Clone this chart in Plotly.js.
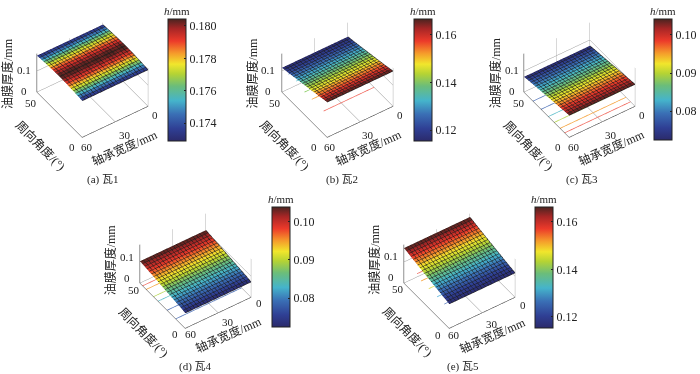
<!DOCTYPE html>
<html><head><meta charset="utf-8">
<script src="https://cdn.plot.ly/plotly-3.0.1.min.js"></script>
<style>html,body{margin:0;padding:0;background:#fff}#c{width:700px;height:374px}</style></head>
<body><div id="c"></div>
<script>
const W=700,H=374;
const widths=[0,3,6,9,12,15,18,21,24,27,30,33,36,39,42,45,48,51,54,57,60];
const angles=[0,2.5,5,7.5,10,12.5,15,17.5,20,22.5,25,27.5,30,32.5,35,37.5,40,42.5,45,47.5,50];
const wobble=[0,.0001,0,-.0001,.0001,0,.0001,-.0001,0,.0001,0,-.0001,.0001,0,-.0001,.0001,0,.0001,-.0001,0,.0001];
const profileA=[.1730,.1740,.1750,.1760,.1768,.1776,.1784,.1790,.1796,.1801,.1804,.1801,.1796,.1790,.1784,.1776,.1768,.1760,.1750,.1740,.1730];
const profileB=[.1665,.164,.161,.158,.155,.153,.150,.147,.145,.142,.140,.137,.135,.132,.130,.127,.125,.122,.120,.118,.1155];
const profileC=[.1040,.1025,.1010,.0995,.0980,.0965,.0950,.0935,.0920,.0905,.0885,.0870,.0855,.0840,.0825,.0810,.0795,.0780,.0765,.0745,.0725];
const profileD=[.0725,.0745,.0765,.0780,.0795,.0810,.0825,.0840,.0855,.0870,.0885,.0905,.0920,.0935,.0950,.0965,.0980,.0995,.1010,.1025,.1038];
const profileE=[.1155,.118,.120,.122,.125,.127,.130,.132,.135,.137,.140,.142,.145,.147,.150,.153,.155,.158,.161,.164,.1662];
const jet=[[0,'#2b2a6b'],[.1,'#2f3f94'],[.22,'#3a6fb5'],[.33,'#45b4cb'],[.45,'#6bbd7a'],[.55,'#b5d334'],[.63,'#f1e62c'],[.72,'#f59a2b'],[.82,'#ec3a2a'],[.92,'#a82626'],[1,'#4a2420']];
const panels=[
 {p:profileA,cx:93,cy:80,bar:[169,19,141],r:[.17289,.18043],tv:[.174,.176,.178,.18],tt:['0.174','0.176','0.178','0.180'],
  f:[83,142],l:[34,93],rt:[152,107],cap:'(a) 瓦1',capx:103,capy:180,lines:[]},
 {p:profileB,cx:339,cy:80,bar:[416,19,141],r:[.1154,.1667],tv:[.12,.14,.16],tt:['0.12','0.14','0.16'],
  f:[327,142],l:[280,93],rt:[398,107],cap:'(b) 瓦2',capx:344,capy:180,lines:[
  {y:21,x:[46,0],c:'#f0655a',z:0},{y:34,x:[46,30],c:'#f5a23a',z:0},{y:42,x:[46,30],c:'#8fcf6a',z:0},{y:50,x:[47,30],c:'#5fc0d0',z:.02},{y:50,x:[54,30],c:'#5577bb',z:.07}]},
 {p:profileC,cx:583,cy:80,bar:[658,19,140],r:[.0724,.1042],tv:[.08,.09,.10],tt:['0.08','0.09','0.10'],
  f:[572,142],l:[525,93],rt:[642,107],cap:'(c) 瓦3',capx:585,capy:180,lines:[
  {y:5,x:[60,0],c:'#f0655a',z:0},{y:10,x:[60,0],c:'#f5a23a',z:0},{y:16.5,x:[60,0],c:'#b9d85a',z:0},{y:23,x:[60,0],c:'#62c0cc',z:0},{y:31,x:[60,0],c:'#5577bb',z:0},{y:40,x:[60,0],c:'#5577bb',z:0}]},
 {p:profileD,cx:197,cy:271,bar:[274,207,327],r:[.0724,.1039],tv:[.08,.09,.10],tt:['0.08','0.09','0.10'],
  f:[187,329],l:[138,280],rt:[256,295],cap:'(d) 瓦4',capx:197,capy:366,lines:[
  {y:47,x:[60,0],c:'#f0655a',z:0},{y:43,x:[60,0],c:'#f5a23a',z:0},{y:35,x:[60,0],c:'#b9d85a',z:0},{y:30,x:[60,0],c:'#62c0cc',z:0},{y:20,x:[60,0],c:'#5577bb',z:0},{y:10.5,x:[60,0],c:'#5577bb',z:0}]},
 {p:profileE,cx:462,cy:271,bar:[538,207,328],r:[.1153,.1663],tv:[.12,.14,.16],tt:['0.12','0.14','0.16'],
  f:[452,330],l:[403,279],rt:[522,297],cap:'(e) 瓦5',capx:466,capy:366,lines:[
  {y:50,x:[48,30],c:'#f0655a',z:.015},{y:45.5,x:[48,30],c:'#f5a23a',z:0},{y:37,x:[48,30],c:'#e2dc50',z:0},{y:28,x:[48,30],c:'#62b8e0',z:0},{y:20,x:[48,30],c:'#5577bb',z:0}]}
];
const serif='"Liberation Serif","Noto Sans CJK SC",serif';
const black='#222';
const traces=[],anns=[],layout={width:W,height:H,margin:{l:0,r:0,t:0,b:0},paper_bgcolor:'#fff',showlegend:false,font:{family:serif,color:black,size:11}};
const SPAN=160;
function txt(x,y,t,rot,size){anns.push({xref:'paper',yref:'paper',x:x/W,y:1-y/H,xanchor:'center',yanchor:'middle',text:t,showarrow:false,textangle:rot||0,font:{family:serif,size:size||11,color:black}});}
panels.forEach((P,i)=>{
  const s='scene'+(i?i+1:'');
  const z=P.p.map(v=>wobble.map(w=>v+w));
  traces.push({type:'surface',scene:s,x:widths,y:angles,z:z,colorscale:jet,cmin:P.r[0],cmax:P.r[1],
    lighting:{ambient:1,diffuse:0,specular:0,roughness:1,fresnel:0},
    contours:{x:{show:true,start:0,end:60,size:3,color:'#1a1a1a',width:1},y:{show:true,start:0,end:50,size:2.5,color:'#1a1a1a',width:1},z:{show:false}},
    colorbar:{x:P.bar[0]/W,xanchor:'left',thicknessmode:'pixels',thickness:18,lenmode:'pixels',len:P.bar[2]-P.bar[1],y:1-P.bar[1]/H,yanchor:'top',xpad:0,ypad:0,outlinecolor:black,outlinewidth:1,
      tickmode:'array',tickvals:P.tv,ticktext:P.tt,ticks:'inside',ticklen:2,tickcolor:black,tickfont:{family:serif,size:12,color:black}}});
  P.lines.forEach(L=>traces.push({type:'scatter3d',scene:s,mode:'lines',x:L.x,y:L.x.map(()=>L.y),z:L.x.map(()=>L.z),line:{color:L.c,width:1.5}}));
  const ax={showbackground:false,showspikes:false,showticklabels:false,showgrid:true,gridcolor:'#999',gridwidth:1,showline:true,linecolor:'#222',linewidth:1,ticks:'',title:{text:''},zeroline:false};
  layout[s]={domain:{x:[(P.cx-SPAN/2)/W,(P.cx+SPAN/2)/W],y:[1-(P.cy+SPAN/2)/H,1-(P.cy-SPAN/2)/H]},
    aspectmode:'manual',aspectratio:{x:1,y:1,z:.66},
    camera:{projection:{type:'orthographic'},eye:{x:-.9,y:-1.31,z:1.5},up:{x:0,y:0,z:1},center:{x:0,y:0,z:0}},
    xaxis:Object.assign({},ax,{range:[60,0],tickvals:[0,30,60]}),
    yaxis:Object.assign({},ax,{range:[0,50],tickvals:[0,50]}),
    zaxis:Object.assign({},ax,{range:[0,.182],tickvals:[0,.1]})};
  const [fx,fy]=P.f,[lx,ly]=P.l,[rx,ry]=P.rt;
  const tl=(x,y,t)=>txt(fx+x,fy+y,t);
  tl(5,5,'60'); tl(-11,5,'0');
  txt(rx+4,ry+8,'0'); txt((fx+rx)/2+8,(fy+ry)/2+10,'30');
  txt(lx-3,ly+10,'50'); txt(lx-10,ly-2,'0'); txt(lx-10,ly-23,'0.1');
  txt(lx-27,ly-20,'油膜厚度/mm',-90,12);
  txt(lx+7,ly+52,'周向角度/(°)',45,12);
  txt((fx+rx)/2+8,fy+5,'轴承宽度/mm',-24,12);
  txt(P.bar[0]+9,P.bar[1]-8,'<i>h</i>/mm',0,11);
  txt(P.capx,P.capy,P.cap,0,11);
});
layout.annotations=anns;
Plotly.newPlot('c',traces,layout,{displayModeBar:false});
</script></body></html>
